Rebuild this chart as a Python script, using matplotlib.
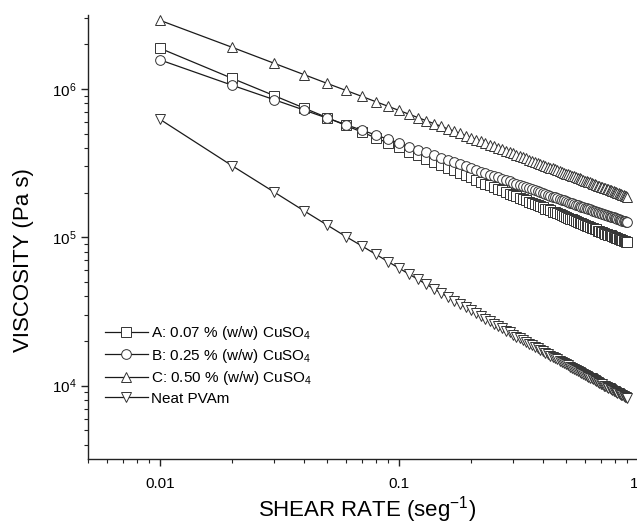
import matplotlib
matplotlib.use('Agg')
import numpy as np
import matplotlib.pyplot as plt
from matplotlib import ticker

# shear rate grid of the flow sweep, 0.01 ... 0.90 1/s
shear_rate = [i / 100 for i in range(1, 91)]

# viscosity in kPa s
eta_a = [1880, 1180, 902, 744, 641, 567, 511, 468, 432, 403, 378, 356, 338, 321, 307, 294, 282, 272,
         262, 253, 245, 237, 230, 224, 218, 212, 207, 202, 197, 193, 189, 185, 181, 177, 174, 171,
         168, 165, 162, 159, 156, 154, 152, 149, 147, 145, 143, 141, 139, 137, 135, 133, 132, 130,
         129, 127, 125, 124, 123, 121, 120, 119, 117, 116, 115, 114, 113, 111, 110, 109, 108, 107,
         106, 105, 104, 103, 103, 102, 101, 100, 99.2, 98.3, 97.5, 96.8, 96, 95.3, 94.5, 93.8,
         93.1, 92.4]
eta_b = [1570, 1060, 847, 721, 636, 574, 527, 489, 458, 432, 409, 390, 373, 357, 344, 332, 321, 310,
         301, 293, 285, 277, 271, 264, 258, 253, 247, 242, 238, 233, 229, 225, 221, 217, 214, 211,
         207, 204, 201, 199, 196, 193, 191, 188, 186, 184, 181, 179, 177, 175, 173, 171, 170, 168,
         166, 164, 163, 161, 160, 158, 157, 155, 154, 153, 151, 150, 149, 148, 146, 145, 144, 143,
         142, 141, 140, 139, 138, 137, 136, 135, 134, 133, 132, 131, 130, 129, 128, 128, 127, 126]
eta_c = [2900, 1910, 1490, 1250, 1090, 977, 890, 820, 764, 716, 676, 641, 611, 584, 560, 538, 519,
         501, 485, 470, 456, 443, 432, 421, 410, 401, 391, 383, 375, 367, 360, 353, 347, 340, 334,
         329, 323, 318, 313, 308, 304, 299, 295, 291, 287, 283, 279, 276, 272, 269, 266, 263, 260,
         257, 254, 251, 249, 246, 243, 241, 239, 236, 234, 232, 229, 227, 225, 223, 221, 219, 217,
         216, 214, 212, 210, 209, 207, 205, 204, 202, 201, 199, 198, 196, 195, 194, 192, 191, 190,
         188]
eta_neat = [624, 304, 202, 151, 121, 101, 87.3, 76.7, 68.5, 61.9, 56.5, 52, 48.2, 44.9, 42.1, 39.6,
            37.4, 35.4, 33.7, 32.1, 30.7, 29.4, 28.2, 27.1, 26.1, 25.2, 24.3, 23.5, 22.8, 22.1,
            21.4, 20.8, 20.2, 19.7, 19.2, 18.7, 18.2, 17.8, 17.4, 17, 16.6, 16.3, 15.9, 15.6, 15.3,
            15, 14.7, 14.4, 14.2, 13.9, 13.7, 13.4, 13.2, 13, 12.8, 12.6, 12.4, 12.2, 12, 11.8,
            11.6, 11.5, 11.3, 11.2, 11, 10.9, 10.7, 10.6, 10.4, 10.3, 10.2, 10, 9.93, 9.81, 9.69,
            9.58, 9.47, 9.36, 9.26, 9.16, 9.06, 8.96, 8.87, 8.77, 8.68, 8.59, 8.51, 8.42, 8.34, 8.26]

labels = ['A: 0.07 % (w/w) CuSO$_4$', 'B: 0.25 % (w/w) CuSO$_4$',
          'C: 0.50 % (w/w) CuSO$_4$', 'Neat PVAm']
markers = ['s', 'o', '^', 'v']
x_ticks = [0.01, 0.1, 1]

plt.rcParams['font.family'] = ['Liberation Sans', 'DejaVu Sans']
plt.rcParams['mathtext.default'] = 'regular'

fig = plt.figure(figsize=(6.37, 5.30), dpi=100)
ax = fig.add_axes([88 / 637, 71 / 530, 550 / 637, 444 / 530])

for eta, m, lab in zip([eta_a, eta_b, eta_c, eta_neat], markers, labels):
    ax.plot(shear_rate, np.array(eta) * 1e3, color='#1a1a1a', lw=0.9, marker=m, ms=7,
            mfc='white', mec='#333333', mew=0.7, label=lab)

ax.set_xscale('log')
ax.set_yscale('log')
ax.set_xlim(0.005, 1)
ax.set_ylim(3.2e3, 3.15e6)

for s in ['top', 'right']:
    ax.spines[s].set_visible(False)
for s in ['left', 'bottom']:
    ax.spines[s].set_color('#222222')
    ax.spines[s].set_linewidth(1.0)

ax.set_xticks(x_ticks)
ax.xaxis.set_major_formatter(ticker.FuncFormatter(lambda v, _: f'{v:g}'))
ax.xaxis.set_minor_formatter(ticker.NullFormatter())
ax.tick_params(which='both', direction='out', color='#222222', labelsize=11)
ax.tick_params(which='major', length=5, width=1.0)
ax.tick_params(which='minor', length=3, width=0.8)
ax.tick_params(axis='x', pad=8)
# last label sits on the right edge of the figure
ax.get_xticklabels()[-1].set_ha('right')

ax.set_xlabel('SHEAR RATE (seg$^{-1}$)', fontsize=16)
ax.set_ylabel('VISCOSITY (Pa s)', fontsize=16)
ax.xaxis.set_label_coords(0.507, -0.08)
ax.yaxis.set_label_coords(-0.098, 0.448)

ax.legend(loc='center left', bbox_to_anchor=(0.031, 0.212), frameon=False,
          fontsize=11, handlelength=2.8, handletextpad=0.2, labelspacing=0.3,
          borderpad=0, borderaxespad=0)

fig.savefig('out.png', dpi=100)
